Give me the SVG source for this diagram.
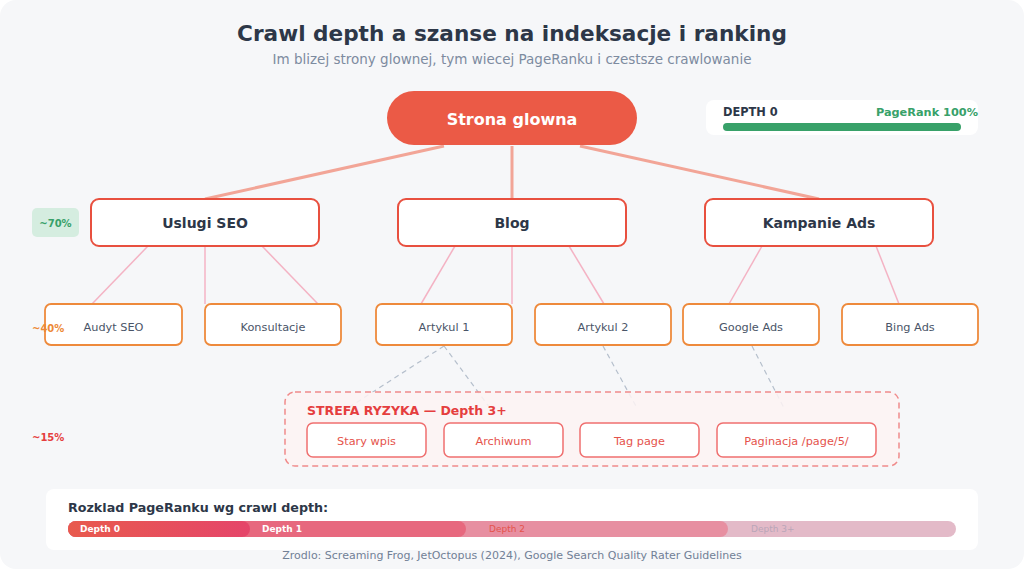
<svg xmlns="http://www.w3.org/2000/svg" width="1024" height="569" viewBox="0 0 1024 569">
<defs>
<linearGradient id="g0" x1="0" y1="0" x2="1" y2="0"><stop offset="0" stop-color="#e85a4d"/><stop offset="1" stop-color="#e5456a"/></linearGradient>
<style>
text{font-family:"DejaVu Sans","Liberation Sans",sans-serif}
.l1 rect{fill:#fff;stroke:#e8503f;stroke-width:2}
.l1 text{font-size:14px;font-weight:bold;fill:#2d3748;text-anchor:middle}
.l2 rect{fill:#fff;stroke:#ee8a3c;stroke-width:1.8}
.l2 text{font-size:11.3px;fill:#4a5568;text-anchor:middle}
.l3 rect{fill:#fff;stroke:#ef6f6f;stroke-width:1.5}
.l3 text{font-size:11.3px;fill:#e5534b;text-anchor:middle}
.c0{stroke:#f2a597;stroke-width:3;fill:none}
.c1{stroke:#f4b3c4;stroke-width:1.5;fill:none}
.c2{stroke:#b5bfcc;stroke-width:1.2;stroke-dasharray:5 4;fill:none}
.pct{font-size:10px;font-weight:bold}
.bl{font-size:9px}
</style>
</defs>
<rect x="0" y="0" width="1024" height="569" fill="#ffffff"/>
<rect x="0" y="0" width="1024" height="569" rx="16" fill="#f6f7f9"/>
<text x="512" y="41" font-size="21.6" font-weight="bold" fill="#2d3748" text-anchor="middle">Crawl depth a szanse na indeksacje i ranking</text>
<text x="512" y="64" font-size="13.5" fill="#7d8ba0" text-anchor="middle">Im blizej strony glownej, tym wiecej PageRanku i czestsze crawlowanie</text>

<g id="connectors">
<line class="c2" x1="444" y1="346" x2="348" y2="408"/>
<line class="c2" x1="444" y1="346" x2="490" y2="408"/>
<line class="c2" x1="603" y1="346" x2="637" y2="408"/>
<line class="c2" x1="752" y1="346" x2="784" y2="408"/>
<line class="c0" x1="444" y1="146" x2="205" y2="199"/>
<line class="c0" x1="512" y1="146" x2="512" y2="199"/>
<line class="c0" x1="580" y1="146" x2="819" y2="199"/>
<line class="c1" x1="148" y1="246" x2="92" y2="304"/>
<line class="c1" x1="205" y1="246" x2="205" y2="304"/>
<line class="c1" x1="262" y1="246" x2="318" y2="304"/>
<line class="c1" x1="455" y1="246" x2="421" y2="304"/>
<line class="c1" x1="512" y1="246" x2="512" y2="304"/>
<line class="c1" x1="569" y1="246" x2="604" y2="304"/>
<line class="c1" x1="762" y1="246" x2="729" y2="304"/>
<line class="c1" x1="876" y1="246" x2="899" y2="304"/>
</g>

<g id="root">
<rect x="387" y="91" width="250" height="54" rx="27" fill="#eb5a46"/>
<text x="512" y="124.5" font-size="16" font-weight="bold" fill="#ffffff" text-anchor="middle">Strona glowna</text>
</g>

<g id="depth-badge">
<rect x="706" y="100" width="272" height="35" rx="8" fill="#ffffff"/>
<text x="723" y="116" font-size="11.4" font-weight="bold" fill="#2d3748">DEPTH 0</text>
<text x="978" y="116" font-size="11.3" font-weight="bold" fill="#38a169" text-anchor="end">PageRank 100%</text>
<rect x="723" y="123" width="238" height="8" rx="4" fill="#38a169"/>
</g>

<g id="pct70">
<rect x="32" y="208" width="47" height="29" rx="5" fill="#d5ede0"/>
<text class="pct" x="55.5" y="226.5" fill="#38a169" text-anchor="middle">~70%</text>
</g>

<g id="uslugi-seo" class="l1"><rect x="91" y="199" width="228" height="47" rx="8"/><text x="205" y="228">Uslugi SEO</text></g>
<g id="blog" class="l1"><rect x="398" y="199" width="228" height="47" rx="8"/><text x="512" y="228">Blog</text></g>
<g id="kampanie-ads" class="l1"><rect x="705" y="199" width="228" height="47" rx="8"/><text x="819" y="228">Kampanie Ads</text></g>

<g id="audyt-seo" class="l2"><rect x="45" y="304" width="137" height="41" rx="6"/><text x="113.5" y="330.5">Audyt SEO</text></g>
<g id="konsultacje" class="l2"><rect x="205" y="304" width="136" height="41" rx="6"/><text x="273" y="330.5">Konsultacje</text></g>
<g id="artykul-1" class="l2"><rect x="376" y="304" width="136" height="41" rx="6"/><text x="444" y="330.5">Artykul 1</text></g>
<g id="artykul-2" class="l2"><rect x="535" y="304" width="136" height="41" rx="6"/><text x="603" y="330.5">Artykul 2</text></g>
<g id="google-ads" class="l2"><rect x="683" y="304" width="136" height="41" rx="6"/><text x="751" y="330.5">Google Ads</text></g>
<g id="bing-ads" class="l2"><rect x="842" y="304" width="136" height="41" rx="6"/><text x="910" y="330.5">Bing Ads</text></g>

<g id="pct40"><text class="pct" x="32" y="332" fill="#ed8936">~40%</text></g>
<g id="pct15"><text class="pct" x="32" y="441" fill="#e53e3e">~15%</text></g>

<g id="risk-zone">
<rect x="285" y="392" width="614" height="74" rx="10" fill="#fdf3f3" fill-opacity="0.85" stroke="#f08a8a" stroke-width="1.5" stroke-dasharray="6 4"/>
<text x="307" y="415" font-size="12.5" font-weight="bold" fill="#e53e3e">STREFA RYZYKA — Depth 3+</text>
</g>
<g id="stary-wpis" class="l3"><rect x="307" y="423" width="119" height="34" rx="6"/><text x="366.5" y="444.5">Stary wpis</text></g>
<g id="archiwum" class="l3"><rect x="444" y="423" width="119" height="34" rx="6"/><text x="503.5" y="444.5">Archiwum</text></g>
<g id="tag-page" class="l3"><rect x="580" y="423" width="119" height="34" rx="6"/><text x="639.5" y="444.5">Tag page</text></g>
<g id="paginacja" class="l3"><rect x="717" y="423" width="159" height="34" rx="6"/><text x="796.5" y="444.5">Paginacja /page/5/</text></g>

<g id="distribution">
<rect x="46" y="489" width="932" height="61" rx="8" fill="#ffffff"/>
<text x="68" y="512" font-size="12.7" font-weight="bold" fill="#2d3748">Rozklad PageRanku wg crawl depth:</text>
<rect x="68" y="521" width="888" height="16" rx="8" fill="#e3bac8"/>
<rect x="68" y="521" width="660" height="16" rx="8" fill="#e78fa1"/>
<rect x="68" y="521" width="398" height="16" rx="8" fill="#e7687e"/>
<rect x="68" y="521" width="182" height="16" rx="8" fill="url(#g0)"/>
<text class="bl" x="80" y="532" font-weight="bold" fill="#ffffff">Depth 0</text>
<text class="bl" x="262" y="532" font-weight="bold" fill="#ffffff">Depth 1</text>
<text class="bl" x="489" y="532" fill="#e5534b">Depth 2</text>
<text class="bl" x="751" y="532" fill="#b9a6b8">Depth 3+</text>
</g>
<text x="512" y="559" font-size="11" fill="#718096" text-anchor="middle">Zrodlo: Screaming Frog, JetOctopus (2024), Google Search Quality Rater Guidelines</text>
</svg>
